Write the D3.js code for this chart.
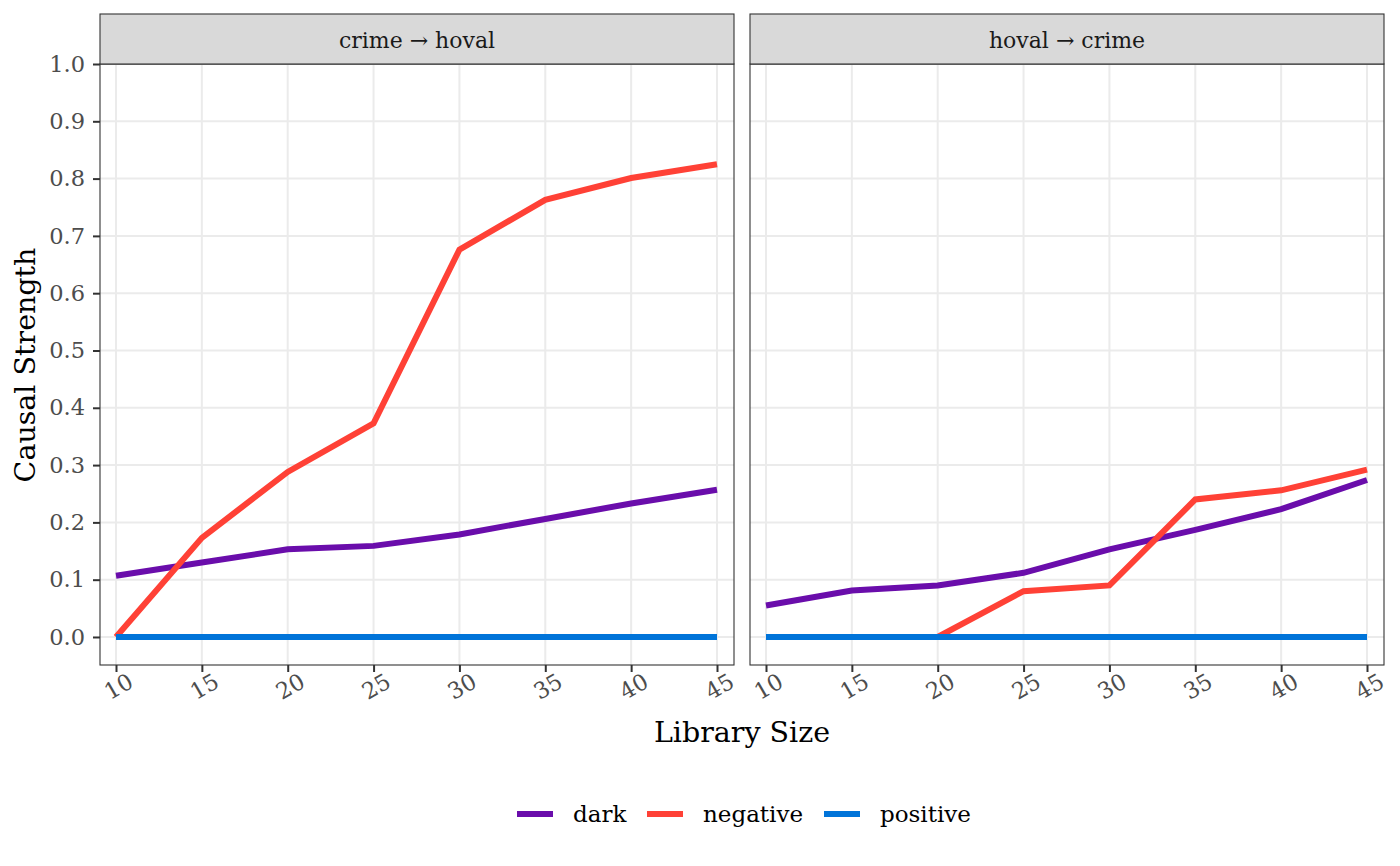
<!DOCTYPE html>
<html>
<head>
<meta charset="utf-8">
<script src="https://cdn.jsdelivr.net/npm/d3@7"></script>
<style>
  body { margin: 0; background: #fff; }
  text { font-family: "DejaVu Serif", serif; }
</style>
</head>
<body>
<div id="chart"></div>
<script>
// data
var libSizes = [10, 15, 20, 25, 30, 35, 40, 45];
var panels = ["crime \u2192 hoval", "hoval \u2192 crime"];
var seriesNames = ["dark", "negative", "positive"];
var colors = {dark: "#6a0dab", negative: "#ff4136", positive: "#0074d9"};

var crimeHoval_dark     = [0.107, 0.130, 0.153, 0.159, 0.179, 0.206, 0.233, 0.257];
var crimeHoval_negative = [0.000, 0.173, 0.288, 0.373, 0.676, 0.763, 0.801, 0.825];
var crimeHoval_positive = [0, 0, 0, 0, 0, 0, 0, 0];

var hovalCrime_dark     = [0.055, 0.081, 0.090, 0.112, 0.153, 0.187, 0.223, 0.274];
var hovalCrime_negative = [0.000, 0.000, 0.000, 0.080, 0.090, 0.240, 0.256, 0.292];
var hovalCrime_positive = [0, 0, 0, 0, 0, 0, 0, 0];

var yTicks = [0.0, 0.1, 0.2, 0.3, 0.4, 0.5, 0.6, 0.7, 0.8, 0.9, 1.0];

var panelData = [
  {dark: crimeHoval_dark, negative: crimeHoval_negative, positive: crimeHoval_positive},
  {dark: hovalCrime_dark, negative: hovalCrime_negative, positive: hovalCrime_positive}
];

var width = 1400, height = 866;
var svg = d3.select("#chart").append("svg")
    .attr("width", width)
    .attr("height", height);

var panelLefts = [100, 750],
  panelW = 634,
  panelTop = 64,
  panelBottom = 665,
  stripTop = 14;

var y = d3.scaleLinear()
  .domain([-0.0489, 1])
  .range([panelBottom, panelTop]);

panels.forEach(function(name, i){
  var left = panelLefts[i];
  var x = d3.scaleLinear()
    .domain([10, 45])
    .range([left + 16, left + 617]);

  var g = svg.append("g");

  // grid
  g.selectAll(".hgrid")
      .data(yTicks)
    .enter().append("line")
      .attr("x1", left).attr("x2", left + panelW)
      .attr("y1", function(d){ return y(d); })
      .attr("y2", function(d){ return y(d); })
      .attr("stroke", "#ebebeb").attr("stroke-width", 2);

  g.selectAll(".vgrid")
      .data(libSizes)
    .enter().append("line")
      .attr("x1", function(d){ return x(d); })
      .attr("x2", function(d){ return x(d); })
      .attr("y1", panelTop).attr("y2", panelBottom)
      .attr("stroke", "#ebebeb").attr("stroke-width", 2);

  // lines
  var line = d3.line()
    .x(function(d, j){ return x(libSizes[j]); })
    .y(function(d){ return y(d); });

  seriesNames.forEach(function(s){
    g.append("path")
      .attr("d", line(panelData[i][s]))
      .attr("fill", "none")
      .attr("stroke", colors[s])
      .attr("stroke-width", 6);
  });

  // border
  g.append("rect")
    .attr("x", left).attr("y", panelTop)
    .attr("width", panelW).attr("height", panelBottom - panelTop)
    .attr("fill", "none").attr("stroke", "#333").attr("stroke-width", 1.1);

  // strip
  g.append("rect")
    .attr("x", left).attr("y", stripTop)
    .attr("width", panelW).attr("height", panelTop - stripTop)
    .attr("fill", "#d9d9d9").attr("stroke", "#333").attr("stroke-width", 1.1);
  g.append("text")
    .attr("x", left + panelW / 2).attr("y", 48)
    .attr("text-anchor", "middle")
    .attr("font-size", 22)
    .attr("fill", "#1a1a1a")
    .text(name);

  // x axis
  var xa = g.append("g")
    .attr("transform", "translate(0," + panelBottom + ")")
    .call(d3.axisBottom(x).tickValues(libSizes).tickSize(7).tickPadding(4));
  xa.select(".domain").remove();
  xa.selectAll(".tick line").attr("stroke", "#333").attr("stroke-width", 2);
  xa.selectAll(".tick text")
    .attr("font-family", "DejaVu Serif, serif")
    .attr("font-size", 22.5)
    .attr("fill", "#4d4d4d")
    .attr("text-anchor", "middle")
    .attr("dy", null)
    .attr("y", null)
    .attr("transform", "translate(3,23) rotate(-30)")
    .attr("dominant-baseline", "middle");

  if (i == 0){
    var ya = g.append("g")
      .attr("transform", "translate(" + left + ",0)")
      .call(d3.axisLeft(y).tickValues(yTicks).tickSize(7).tickPadding(8).tickFormat(d3.format(".1f")));
    ya.select(".domain").remove();
    ya.selectAll(".tick line").attr("stroke", "#333").attr("stroke-width", 2);
    ya.selectAll(".tick text")
      .attr("font-family", "DejaVu Serif, serif")
      .attr("font-size", 22.5)
      .attr("fill", "#4d4d4d");
  }
});

// axis titles
svg.append("text")
  .attr("x", 742).attr("y", 742)
  .attr("text-anchor", "middle")
  .attr("font-size", 28.5)
  .attr("fill", "#000")
  .text("Library Size");

svg.append("text")
  .attr("transform", "translate(35,365) rotate(-90)")
  .attr("text-anchor", "middle")
  .attr("font-size", 28.5)
  .attr("fill", "#000")
  .text("Causal Strength");

// legend
var legendX = [517, 647, 824];
var legend = svg.append("g");
seriesNames.forEach(function(s, i){
  legend.append("line")
    .attr("x1", legendX[i]).attr("x2", legendX[i] + 36)
    .attr("y1", 814).attr("y2", 814)
    .attr("stroke", colors[s]).attr("stroke-width", 6);
  legend.append("text")
    .attr("x", legendX[i] + 56).attr("y", 822)
    .attr("font-size", 23)
    .attr("fill", "#000")
    .text(s);
});
</script>
</body>
</html>
